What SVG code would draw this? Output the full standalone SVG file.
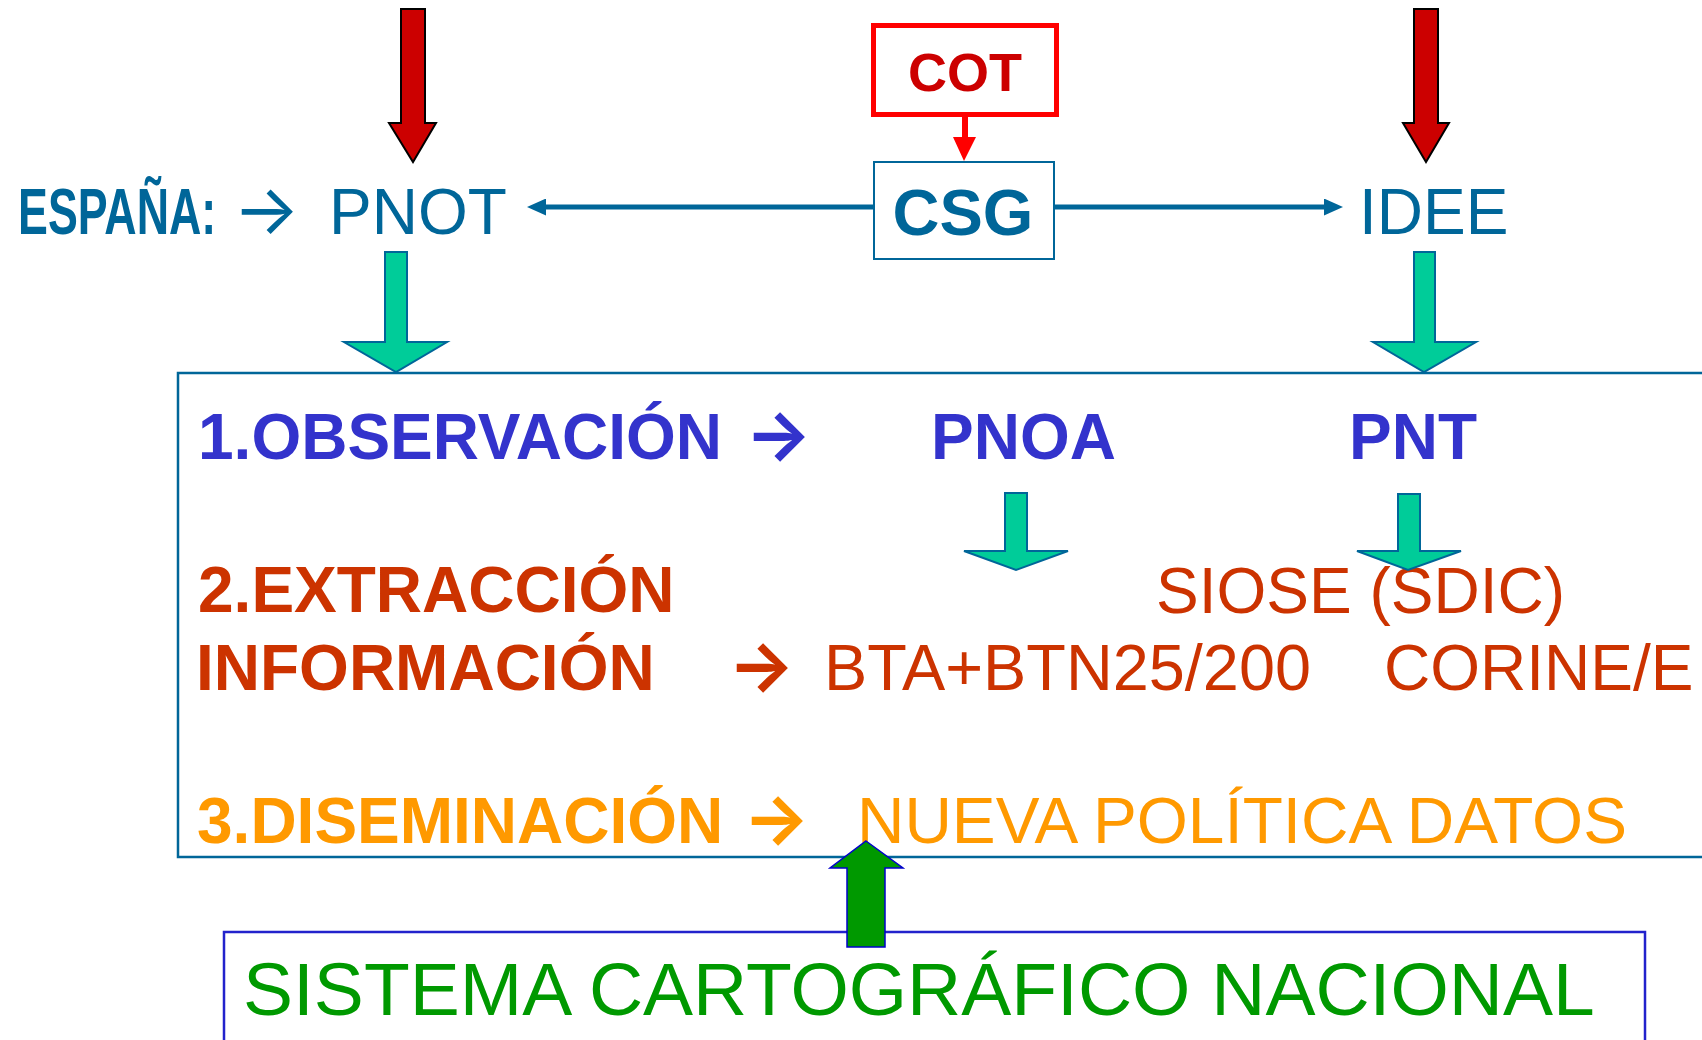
<svg xmlns="http://www.w3.org/2000/svg" width="1702" height="1040" viewBox="0 0 1702 1040">
<defs>
<style>
.t{font-family:"Liberation Sans",Arial,sans-serif;}
.b{font-weight:bold;}
.arr{font-family:Inter,"DejaVu Sans",sans-serif;font-size:70px;}
.blue{fill:#006699;}
.ind{fill:#3333cc;}
.rust{fill:#cc3300;}
.org{fill:#ff9900;}
.grn{fill:#009900;}
.red-arrow{fill:#cc0000;stroke:#000;stroke-width:2;stroke-linejoin:miter;}
.teal-arrow{fill:#00cc99;stroke:#006699;stroke-width:2;}
.conn{stroke:#006699;stroke-width:5;fill:none;}
</style>
<marker id="ah" markerWidth="3.8" markerHeight="3.4" refX="0" refY="1.7" orient="auto" markerUnits="strokeWidth">
<path d="M0,0 L3.8,1.7 L0,3.4 z" fill="#006699"/>
</marker>
</defs>
<rect width="1702" height="1040" fill="#fff"/>

<g id="main-box"><rect x="178" y="373" width="1540" height="484" fill="none" stroke="#006699" stroke-width="2.5"/></g>
<g id="scn-box"><rect x="224" y="932" width="1421" height="130" fill="none" stroke="#2222cc" stroke-width="2.5"/></g>

<g id="espana"><text class="t b blue" transform="translate(18,234) scale(0.7,1)" x="0" y="0" font-size="64">ESPAÑA:</text>
<text class="arr blue" x="233" y="234">→</text></g>
<g id="pnot"><text class="t blue" x="329" y="234" font-size="64">PNOT</text></g>
<g id="cot"><rect x="873.5" y="25.5" width="183" height="89" fill="#fff" stroke="#ff0000" stroke-width="5"/>
<text class="t b" x="965" y="91" font-size="54" fill="#cc0000" text-anchor="middle">COT</text></g>
<g id="csg"><rect x="874" y="162" width="180" height="97" fill="#fff" stroke="#006699" stroke-width="2"/>
<text class="t b blue" x="963" y="235" font-size="65" text-anchor="middle">CSG</text></g>
<g id="idee"><text class="t blue" x="1359" y="234" font-size="64">IDEE</text></g>

<g id="observacion"><text class="t b ind" x="198" y="459" font-size="64">1.OBSERVACIÓN</text>
<text class="arr b ind" x="745" y="459">→</text></g>
<g id="pnoa"><text class="t b ind" x="931" y="459" font-size="64">PNOA</text></g>
<g id="pnt"><text class="t b ind" x="1349" y="459" font-size="64">PNT</text></g>
<g id="extraccion"><text class="t b rust" x="198" y="612" font-size="64">2.EXTRACCIÓN</text>
<text class="t b rust" x="196" y="690" font-size="64">INFORMACIÓN</text>
<text class="arr b rust" x="728" y="690">→</text></g>
<g id="bta"><text class="t rust" x="824" y="690" font-size="64" textLength="487" lengthAdjust="spacingAndGlyphs">BTA+BTN25/200</text></g>
<g id="siose"><text class="t rust" x="1156" y="613" font-size="64">SIOSE (SDIC)</text></g>
<g id="corine"><text class="t rust" x="1384" y="690" font-size="64">CORINE/E</text></g>
<g id="diseminacion"><text class="t b org" x="197" y="843" font-size="64">3.DISEMINACIÓN</text>
<text class="arr b org" x="743" y="843">→</text></g>
<g id="politica"><text class="t org" x="857" y="843" font-size="64" textLength="770" lengthAdjust="spacingAndGlyphs">NUEVA POLÍTICA DATOS</text></g>
<g id="scn"><text class="t grn" x="243" y="1015" font-size="75">SISTEMA CARTOGRÁFICO NACIONAL</text></g>

<g id="connectors">
<line class="conn" x1="874" y1="207" x2="546" y2="207" marker-end="url(#ah)"/>
<line class="conn" x1="1054" y1="207" x2="1324" y2="207" marker-end="url(#ah)"/>
<polygon class="red-arrow" points="401,9 425,9 425,123 436,123 413,162 389,123 401,123"/>
<polygon class="red-arrow" points="1414,9 1438,9 1438,123 1449,123 1426,162 1403,123 1414,123"/>
<polygon fill="#ff0000" points="962,116 968,116 968,137 976,137 964,161 953,137 962,137"/>
<polygon class="teal-arrow" points="385,252 407,252 407,342 447,342 396,372 344,342 385,342"/>
<polygon class="teal-arrow" points="1414,252 1435,252 1435,342 1476,342 1424,372 1373,342 1414,342"/>
<polygon class="teal-arrow" points="1005,493 1027,493 1027,551 1068,551 1016,570 964,551 1005,551"/>
<polygon class="teal-arrow" points="1398,494 1420,494 1420,551 1461,551 1408,570 1357,551 1398,551"/>
<polygon fill="#009900" stroke="#0000cc" stroke-width="1.5" points="866,841 903,868 885,868 885,947 847,947 847,868 830,868"/>
</g>
</svg>
